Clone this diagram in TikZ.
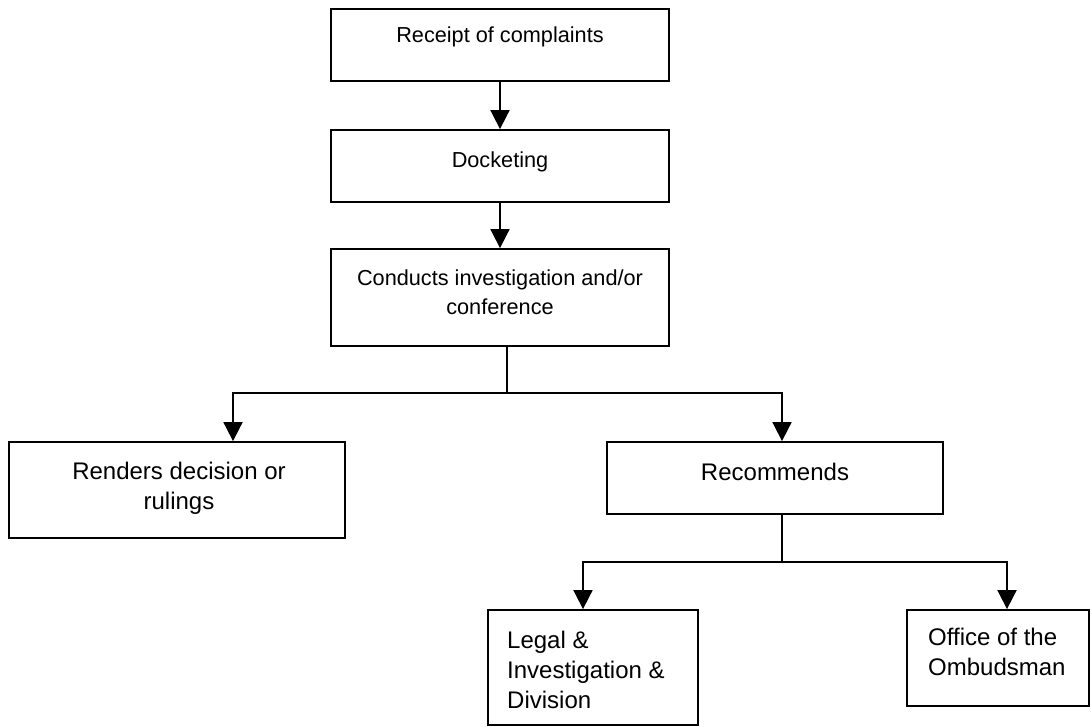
\documentclass[tikz,border=0pt]{standalone}
\usepackage{fontspec}
\setmainfont{Liberation Sans}
\usetikzlibrary{arrows.meta}

\tikzset{
  box/.style={draw=black, line width=1.8pt, rectangle, inner sep=0pt},
  smalltxt/.style={font=\fontsize{21.7}{29}\selectfont, align=center, inner sep=0pt},
  bigtxt/.style={font=\fontsize{24}{30}\selectfont, align=center, inner sep=0pt},
  lefttxt/.style={font=\fontsize{24}{30}\selectfont, align=left, anchor=west, inner sep=0pt},
  link/.style={line width=1.8pt, -{Triangle[length=19pt,width=19pt]}},
  wire/.style={line width=1.8pt}
}

\begin{document}
\begin{tikzpicture}[x=1pt, y=-1pt]
\useasboundingbox (0,0) rectangle (1091,727);

% upper column of steps
\node[box, minimum width=338pt, minimum height=72pt] (receipt) at (500,45) {};
\node[smalltxt] (receiptT) at (500,37) {Receipt of complaints};

\node[box, minimum width=338pt, minimum height=72pt] (docket) at (500,166) {};
\node[smalltxt] (docketT) at (500,162) {Docketing};

\node[box, minimum width=338pt, minimum height=97pt] (invest) at (500,297.5) {};
\node[smalltxt] (investT) at (500,292) {Conducts investigation and/or\\conference};

% outcomes
\node[box, minimum width=336pt, minimum height=96pt] (renders) at (177,490) {};
\node[bigtxt] (rendersT) at (179,488) {Renders decision or\\rulings};

\node[box, minimum width=336pt, minimum height=72pt] (recomm) at (775,478) {};
\node[bigtxt] (recommT) at (775,472) {Recommends};

% referral offices
\node[box, minimum width=210pt, minimum height=115pt] (legal) at (593,667.5) {};
\node[lefttxt] (legalT) at (507,670) {Legal \&\\Investigation \&\\Division};

\node[box, minimum width=182pt, minimum height=96pt] (ombud) at (998,658) {};
\node[lefttxt] (ombudT) at (928,652) {Office of the\\Ombudsman};

% junction points of the branching lines
\coordinate (j1) at (507,393);
\coordinate (j2) at (782,562);

% straight flow
\draw[link] (receipt.south -| 500,0) -- (docket.north -| 500,0);
\draw[link] (docket.south -| 500,0) -- (invest.north -| 500,0);

% first branch
\draw[wire] (invest.south -| j1) -- (j1);
\draw[link] (j1) -| (renders.north -| 233,0);
\draw[link] (j1) -| (recomm.north -| 782,0);

% second branch
\draw[wire] (recomm.south -| j2) -- (j2);
\draw[link] (j2) -| (legal.north -| 583,0);
\draw[link] (j2) -| (ombud.north -| 1007,0);
\end{tikzpicture}
\end{document}
